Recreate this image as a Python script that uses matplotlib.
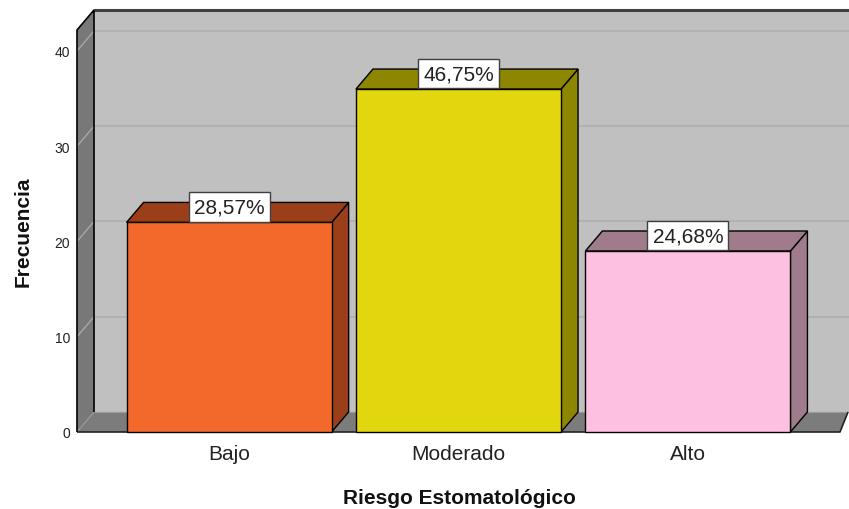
import matplotlib
matplotlib.use("Agg")
import matplotlib.pyplot as plt
from matplotlib.patches import Polygon

# Frequencies per risk level
categories = ["Bajo", "Moderado", "Alto"]
counts = [22, 36, 19]
yticks = [0, 10, 20, 30, 40]
front_colors = ["#f3692b", "#e2d70e", "#fdc0e0"]
shade_colors = ["#9b3f1b", "#8c8600", "#a07b8b"]

total = sum(counts)
pcts = [c / total * 100 for c in counts]

plt.rcParams["font.family"] = ["Liberation Sans", "DejaVu Sans"]

W, H = 849, 510
fig = plt.figure(figsize=(W / 100, H / 100), dpi=100)
ax = fig.add_axes([77 / W, 77 / H, 763 / W, 402 / H])
x0, x1 = -0.663, 2.663
ymax = 42.2
ax.set_xlim(x0, x1)
ax.set_ylim(0, ymax)
dx, dy = 0.0741, 2.1      # depth offset of the 3-D frame
bw = 0.894                # bar width
xe = x1 + 0.25            # back wall runs off the right edge
for s in ax.spines.values():
    s.set_visible(False)
ax.patch.set_visible(False)


def poly(pts, fc, ec="black", lw=1.0, z=1):
    ax.add_patch(Polygon(pts, closed=True, fc=fc, ec=ec, lw=lw, zorder=z,
                         clip_on=False, joinstyle="miter"))


def line(xs, ys, color, lw=1.0, z=1):
    ax.plot(xs, ys, color=color, lw=lw, zorder=z, clip_on=False,
            solid_capstyle="butt")


# back wall with gridlines
poly([(x0 + dx, dy), (x0 + dx, ymax + dy), (xe, ymax + dy), (xe, dy)],
     "#c0c0c0", ec="none", z=0.5)
for t in yticks[1:]:
    line([x0 + dx, xe], [t + dy, t + dy], "#b0b0b0", 1.3, 0.6)
line([x0 + dx, xe], [ymax + dy, ymax + dy], "#404040", 2.2, 0.7)

# left wall
poly([(x0, 0), (x0 + dx, dy), (x0 + dx, ymax + dy), (x0, ymax)],
     "#787878", ec="none", z=0.8)
for t in yticks[1:]:
    line([x0, x0 + dx], [t, t + dy], "#a8a8a8", 1.0, 0.85)
line([x0, x0, x0 + dx, x0 + dx], [0, ymax, ymax + dy, dy], "black", 1.2, 0.9)

# floor
poly([(x0, 0), (x0 + dx, dy), (x1 + 0.035, dy), (x1, 0)],
     "#7c7c7c", ec="none", z=0.8)
line([x0, x0 + dx], [0, dy], "#9a9a9a", 0.8, 0.85)
line([x0 + dx, x1 + 0.035], [dy, dy], "#9a9a9a", 0.8, 0.85)
line([x0, x1, x1 + 0.035], [0, 0, dy], "#222222", 1.2, 0.9)

# bars
for i, (c, fc, sc) in enumerate(zip(counts, front_colors, shade_colors)):
    xl, xr = i - bw / 2, i + bw / 2
    poly([(xr, 0), (xr + dx, dy), (xr + dx, c + dy), (xr, c)], sc, z=2)
    poly([(xl, c), (xl + dx, c + dy), (xr + dx, c + dy), (xr, c)], sc, z=2)
    poly([(xl, 0), (xr, 0), (xr, c), (xl, c)], fc, z=2.1)

# percentage labels
for i, (c, p) in enumerate(zip(counts, pcts)):
    ax.annotate(f"{p:.2f}%".replace(".", ","), xy=(i, c), xytext=(0, 4.3),
                textcoords="offset points", ha="center", va="bottom",
                fontsize=15, color="#222222", zorder=5, annotation_clip=False,
                bbox=dict(boxstyle="square,pad=0.25", fc="white",
                          ec="#404040", lw=1.0))

ax.set_yticks(yticks)
ax.set_xticks(range(len(categories)), categories)
ax.tick_params(axis="y", length=0, pad=5, labelsize=10, labelcolor="#222222")
ax.tick_params(axis="x", length=0, pad=9, labelsize=15, labelcolor="#222222")

fig.text(459 / W, 1 - 504 / H, "Riesgo Estomatológico", ha="center",
         va="baseline", fontsize=15, fontweight="bold", color="#111111")
fig.text(23 / W, 1 - 232 / H, "Frecuencia", ha="center", va="center",
         rotation=90, fontsize=15, fontweight="bold", color="#111111")

fig.savefig("out.png", dpi=100)
